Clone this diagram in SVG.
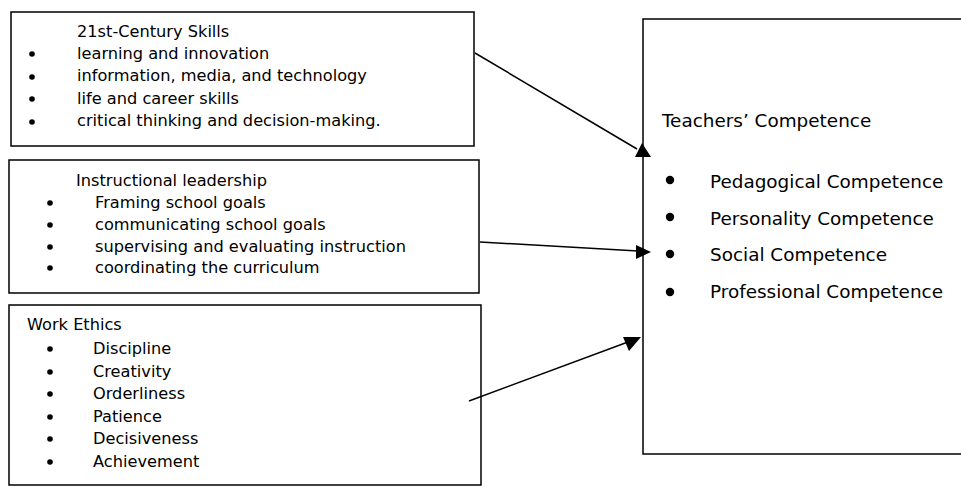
<svg xmlns="http://www.w3.org/2000/svg" width="961" height="487" viewBox="0 0 961 487">
<defs>
<style>
.box{fill:#fff;stroke:#000;stroke-width:1.5}
.t{font-family:"DejaVu Sans","Liberation Sans",sans-serif;font-size:16.2px;fill:#000}
.tr{font-family:"DejaVu Sans","Liberation Sans",sans-serif;font-size:18.4px;fill:#000}
.conn{stroke:#000;stroke-width:1.5;fill:none}
.head{fill:#000}
</style>
</defs>
<rect width="961" height="487" fill="#fff"/>
<g id="node-skills">
<rect class="box" x="11" y="12" width="463" height="134"/>
<text class="t" x="77" y="37">21st-Century Skills</text>
<circle cx="32" cy="54" r="2.8"/><text class="t" x="77" y="59">learning and innovation</text>
<circle cx="32" cy="77" r="2.8"/><text class="t" x="77" y="81">information, media, and technology</text>
<circle cx="32" cy="99" r="2.8"/><text class="t" x="77" y="104">life and career skills</text>
<circle cx="32" cy="122" r="2.8"/><text class="t" x="77" y="126">critical thinking and decision-making.</text>
</g>
<g id="node-leadership">
<rect class="box" x="9" y="160" width="470" height="133"/>
<text class="t" x="76" y="186">Instructional leadership</text>
<circle cx="50" cy="203" r="2.8"/><text class="t" x="95" y="208">Framing school goals</text>
<circle cx="50" cy="225" r="2.8"/><text class="t" x="95" y="230">communicating school goals</text>
<circle cx="50" cy="247" r="2.8"/><text class="t" x="95" y="252">supervising and evaluating instruction</text>
<circle cx="50" cy="268" r="2.8"/><text class="t" x="95" y="273">coordinating the curriculum</text>
</g>
<g id="node-ethics">
<rect class="box" x="9" y="305" width="472" height="180"/>
<text class="t" x="27" y="330">Work Ethics</text>
<circle cx="50" cy="349" r="2.8"/><text class="t" x="93" y="354">Discipline</text>
<circle cx="50" cy="372" r="2.8"/><text class="t" x="93" y="377">Creativity</text>
<circle cx="50" cy="394" r="2.8"/><text class="t" x="93" y="399">Orderliness</text>
<circle cx="50" cy="417" r="2.8"/><text class="t" x="93" y="422">Patience</text>
<circle cx="50" cy="439" r="2.8"/><text class="t" x="93" y="444">Decisiveness</text>
<circle cx="50" cy="462" r="2.8"/><text class="t" x="93" y="467">Achievement</text>
</g>
<g id="node-competence">
<rect class="box" x="643" y="19" width="330" height="435"/>
<text class="tr" x="662" y="127">Teachers’ Competence</text>
<circle cx="670" cy="180" r="4.2"/><text class="tr" x="710" y="188">Pedagogical Competence</text>
<circle cx="670" cy="217" r="4.2"/><text class="tr" x="710" y="225">Personality Competence</text>
<circle cx="670" cy="254" r="4.2"/><text class="tr" x="710" y="261">Social Competence</text>
<circle cx="670" cy="292" r="4.2"/><text class="tr" x="710" y="298">Professional Competence</text>
</g>
<g id="connectors">
<line class="conn" x1="475" y1="53" x2="637" y2="149"/>
<polygon class="head" points="642,143 635,157 651,157"/>
<line class="conn" x1="480" y1="242" x2="638" y2="251"/>
<polygon class="head" points="651,252 636,245 636,259"/>
<line class="conn" x1="469" y1="401" x2="628" y2="342"/>
<polygon class="head" points="641,337 623,337 629,351"/>
</g>
</svg>
